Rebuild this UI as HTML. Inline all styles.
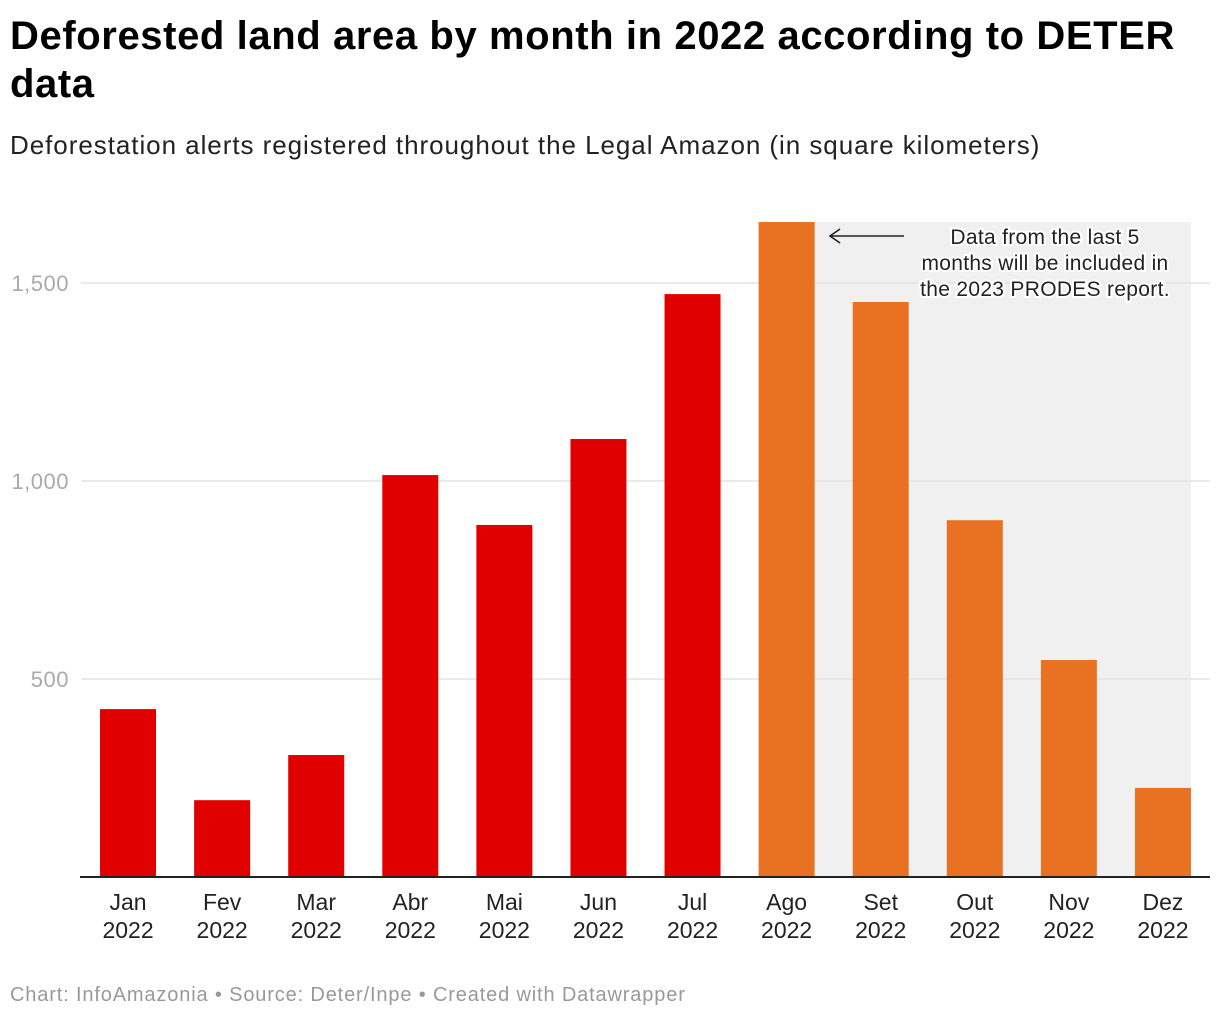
<!DOCTYPE html>
<html><head><meta charset="utf-8"><style>
body{margin:0;background:#fff;font-family:"Liberation Sans",Arial,sans-serif;}
#wrap{position:relative;width:1220px;height:1020px;overflow:hidden}
h1{position:absolute;left:10px;top:12px;margin:0;font-size:40px;line-height:48px;font-weight:bold;color:#000;letter-spacing:0.6px}
.sub{position:absolute;left:10px;top:130px;font-size:26px;color:#222;letter-spacing:0.95px}
.foot{position:absolute;left:10px;top:984px;font-size:20px;color:#999;letter-spacing:0.85px}
</style></head><body>
<div id="wrap">
<h1>Deforested land area by month in 2022 according to DETER<br>data</h1>
<div class="sub">Deforestation alerts registered throughout the Legal Amazon (in square kilometers)</div>
<svg id="chart" width="1220" height="1020" style="position:absolute;left:0;top:0"></svg>
<div class="foot">Chart: InfoAmazonia • Source: Deter/Inpe • Created with Datawrapper</div>
</div>
<script>
const months=["Jan","Fev","Mar","Abr","Mai","Jun","Jul","Ago","Set","Out","Nov","Dez"];
const years=["2022","2022","2022","2022","2022","2022","2022","2022","2022","2022","2022","2022"];
const values=[424,194,308,1015,889,1106,1472,1654,1452,901,548,225];
const yTicks=[500,1000,1500];
const yTickLabels=["500","1,000","1,500"];
const highlightStart=7;
const NS="http://www.w3.org/2000/svg";
const svg=document.getElementById('chart');
const x0=81,x1=1210,y0=877,pxPer=0.396;
const band=(x1-x0)/months.length,bw=56;
const y=v=>y0-v*pxPer;
const xb=i=>x0+i*band+(band-bw)/2;
function mk(t,a){const e=document.createElementNS(NS,t);for(const k in a)e.setAttribute(k,a[k]);svg.appendChild(e);return e;}
const topV=values[highlightStart];
const sh=mk('rect',{x:xb(highlightStart),y:y(topV),width:xb(months.length-1)+bw-xb(highlightStart),height:y0-y(topV),fill:'#f0f0f0'});


yTicks.forEach((t,i)=>{
 const g=mk('line',{x1:x0,x2:x1,y1:y(t),y2:y(t),stroke:'#e3e3e3','stroke-width':1.5});
 
 
 const l=mk('text',{x:69,y:y(t)+8,'text-anchor':'end','font-size':22,'letter-spacing':0.5,fill:'#aaa','font-family':'Liberation Sans, Arial, sans-serif'});
 l.textContent=yTickLabels[i];
 
 
});
values.forEach((v,i)=>{
 const r=mk('rect',{x:xb(i),y:y(v),width:bw,height:v*pxPer,fill:i>=highlightStart?'#e97222':'#e10000'});
 
 
 const cx=xb(i)+bw/2;
 const t1=mk('text',{x:cx,y:910,'text-anchor':'middle','font-size':23,fill:'#222','font-family':'Liberation Sans, Arial, sans-serif'});
 t1.textContent=months[i];
 
 
 const t2=mk('text',{x:cx,y:938,'text-anchor':'middle','font-size':23,fill:'#222','font-family':'Liberation Sans, Arial, sans-serif'});
 t2.textContent=years[i];
 
 
});
const ax=mk('line',{x1:x0-1,x2:x1,y1:y0,y2:y0,stroke:'#222','stroke-width':2});


const ar=mk('path',{d:'M904 236 L830 236 M840 229 L830 236 L840 243',stroke:'#222','stroke-width':1.6,fill:'none'});


["Data from the last 5","months will be included in","the 2023 PRODES report."].forEach((s,i)=>{
 const t=mk('text',{x:1045,y:244+i*26,'text-anchor':'middle','font-size':21,'letter-spacing':0.3,fill:'#222',stroke:'#fff','stroke-width':4,'paint-order':'stroke','font-family':'Liberation Sans, Arial, sans-serif'});
 t.textContent=s;
 
 
});
</script>
</body></html>
